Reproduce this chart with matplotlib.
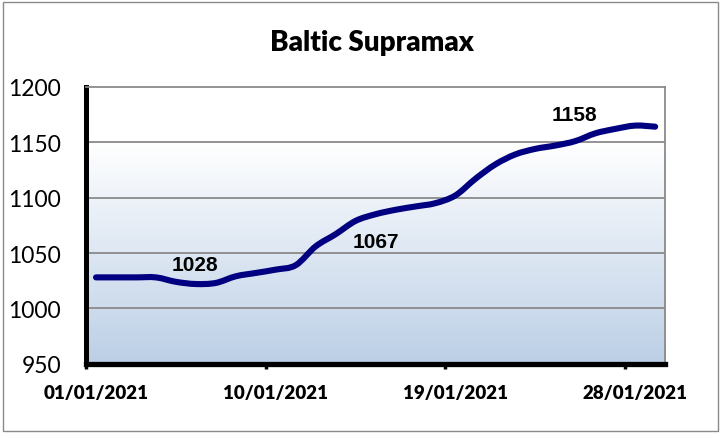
import datetime as dt

import matplotlib
matplotlib.use('Agg')
import matplotlib.pyplot as plt
import matplotlib.dates as mdates
from matplotlib.path import Path
from matplotlib.patches import PathPatch, Rectangle
from matplotlib.colors import LinearSegmentedColormap
from matplotlib.ticker import NullFormatter
import numpy as np

# Baltic Supramax index, January 2021
days = list(range(1, 30))
values = [1028, 1028, 1028, 1028, 1024, 1022, 1023, 1029, 1032, 1035,
          1039, 1056, 1067, 1079, 1085, 1089, 1092, 1095, 1102, 1117,
          1130, 1139, 1144, 1147, 1151, 1158, 1162, 1165, 1164]

label_values = [1028, 1067, 1158]
tick_days = [1, 10, 19, 28]
y_ticks = [950, 1000, 1050, 1100, 1150, 1200]


def smooth_path(x, y):
    # Excel-like smoothed line: Catmull-Rom segments as cubic Beziers
    pts = np.column_stack([x, y])
    n = len(pts)
    verts = [pts[0]]
    codes = [Path.MOVETO]
    for i in range(n - 1):
        p0 = pts[max(i - 1, 0)]
        p1 = pts[i]
        p2 = pts[i + 1]
        p3 = pts[min(i + 2, n - 1)]
        c1 = p1 + (p2 - p0) / 6.0
        c2 = p2 - (p3 - p1) / 6.0
        verts += [c1, c2, p2]
        codes += [Path.CURVE4] * 3
    return Path(verts, codes)


def main():
    plt.rcParams['font.family'] = ['Lato', 'DejaVu Sans']

    fig = plt.figure(figsize=(7.23, 4.39), dpi=100)
    ax = fig.add_axes([0.119, 0.169, 0.801, 0.631])

    start = dt.date(2021, 1, 1)
    dates = [start + dt.timedelta(days=d - 1) for d in days]
    # points sit in the middle of each day slot
    xs = mdates.date2num(dates) + 0.5

    # gradient background: white at top, pale blue at the bottom
    cmap = LinearSegmentedColormap.from_list(
        'bg', [(0.0, '#bccfe6'), (0.8, '#ffffff'), (1.0, '#ffffff')])
    grad = np.linspace(0, 1, 256).reshape(-1, 1)
    ax.imshow(grad, extent=[0, 1, 0, 1], transform=ax.transAxes,
              origin='lower', aspect='auto', cmap=cmap, zorder=0)

    for yv in y_ticks[1:-1]:
        ax.axhline(yv, color='#8a8a8a', lw=1.3, zorder=1)

    patch = PathPatch(smooth_path(xs, values), fill=False,
                      edgecolor='#000080', lw=4.4, capstyle='round',
                      joinstyle='round', zorder=3)
    ax.add_patch(patch)

    ax.set_xlim(mdates.date2num(start), mdates.date2num(start + dt.timedelta(days=29)))
    ax.set_ylim(950, 1200)

    # value labels, placed as on the original
    label_pos = [(5.43, 1040), (14.5, 1060), (24.45, 1175)]
    for val, (dx, yv) in zip(label_values, label_pos):
        ax.text(mdates.date2num(start) + dx, yv, str(val),
                family='Liberation Sans', fontweight='bold', fontsize=15,
                ha='center', va='center', zorder=4)

    # tick marks on the day boundaries, labels centred on the day slot
    tick_nums = [mdates.date2num(start + dt.timedelta(days=d - 1))
                 for d in tick_days]
    ax.set_xticks(tick_nums)
    ax.xaxis.set_major_formatter(NullFormatter())
    ax.set_xticks([t + 0.5 for t in tick_nums], minor=True)
    ax.xaxis.set_minor_formatter(mdates.DateFormatter('%d/%m/%Y'))
    ax.set_yticks(y_ticks)

    ax.tick_params(axis='x', which='major', direction='out', length=3.5,
                   width=2.5, color='black')
    ax.tick_params(axis='x', which='minor', length=3.5, color='none',
                   pad=11, labelsize=13.5)
    ax.tick_params(axis='y', length=0, pad=18, labelsize=16.5)
    for lab in ax.get_xticklabels(minor=True):
        lab.set_fontweight('heavy')

    ax.spines['left'].set_linewidth(3.6)
    ax.spines['bottom'].set_linewidth(3.8)
    ax.spines['left'].set_color('black')
    ax.spines['bottom'].set_color('black')
    ax.spines['top'].set_color('#8a8a8a')
    ax.spines['right'].set_color('#8a8a8a')
    ax.spines['top'].set_linewidth(1.3)
    ax.spines['right'].set_linewidth(1.3)

    fig.text(0.515, 0.902, 'Baltic Supramax', ha='center', va='center',
             fontsize=20, fontweight='heavy')

    fig.patches.append(Rectangle((0.004, 0.016), 0.989, 0.977,
                                 transform=fig.transFigure, fill=False,
                                 edgecolor='#8a8a8a', lw=1.0))

    fig.savefig('out.png', dpi=100)


if __name__ == "__main__":
    main()
